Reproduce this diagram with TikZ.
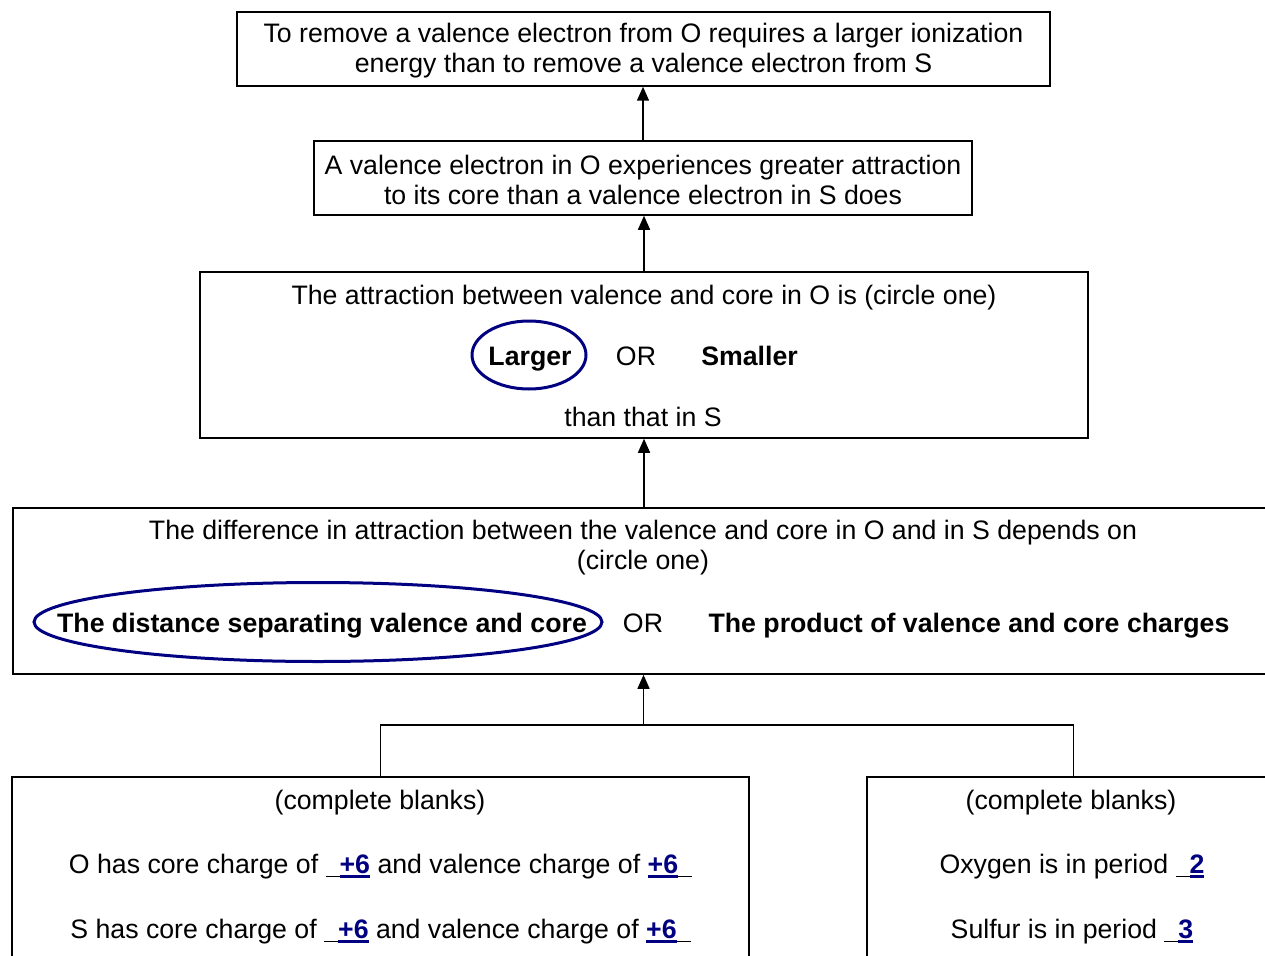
\documentclass[tikz,border=0pt]{standalone}
\usepackage{fontspec}
\setmainfont{Liberation Sans}
\usetikzlibrary{arrows.meta,shapes.geometric}
\definecolor{navy}{RGB}{0,0,128}
\newcommand\ans[1]{{\color{navy}\bfseries\setbox0\hbox{#1}\rlap{\rule[-4pt]{\wd0}{2.5pt}}\box0}}
\newcommand\gap{\rule[-3.5pt]{14pt}{1.3pt}}
\tikzset{
  box/.style={draw, line width=1.5pt, inner sep=0pt},
  txt/.style={inner sep=0pt, align=center, font=\fontsize{26.7}{30}\selectfont},
  upar/.style={line width=1.5pt, -{Triangle[length=14pt,width=12pt]}},
  link/.style={line width=1.5pt},
  circ/.style={draw=navy, line width=3pt, ellipse, inner sep=0pt}
}
\begin{document}
\begin{tikzpicture}[x=1pt,y=-1pt]
\useasboundingbox[fill=white] (0,0) rectangle (1265,955);
% boxes
\node[box, minimum width=813, minimum height=74] (b1) at (643.5,49) {};
\node[box, minimum width=658, minimum height=74] (b2) at (643,178) {};
\node[box, minimum width=888, minimum height=166] (b3) at (644,355) {};
\node[box, minimum width=1267, minimum height=166] (b4) at (646.5,591) {};
\node[box, minimum width=737, minimum height=200] (b5) at (380.5,877) {};
\node[box, minimum width=413, minimum height=200] (b6) at (1073.5,877) {};
% box 1, 2 texts
\node[txt] (t1) at (643.5,51)
  {To remove a valence electron from O requires a larger ionization\\energy than to remove a valence electron from S};
\node[txt] (t2) at (643,180)
  {A valence electron in O experiences greater attraction\\to its core than a valence electron in S does};
% box 3 texts
\node[txt, anchor=base] (t3a) at (644,304.5) {The attraction between valence and core in O is (circle one)};
\node[txt, anchor=base] (t3b) at (530,365.5) {\bfseries Larger};
\node[circ, minimum width=114, minimum height=68] (c1) at (529,355) {};
\node[txt, anchor=base] (t3c) at (636,365.5) {OR};
\node[txt, anchor=base] (t3d) at (749.5,365.5) {\bfseries Smaller};
\node[txt, anchor=base] (t3e) at (643,426.5) {than that in S};
% box 4 texts
\node[txt] (t4a) at (643,548) {The difference in attraction between the valence and core in O and in S depends on\\(circle one)};
\node[txt, anchor=base] (t4b) at (322,632.5) {\bfseries The distance separating valence and core};
\node[circ, minimum width=568, minimum height=79] (c2) at (318,622) {};
\node[txt, anchor=base] (t4c) at (643,632.5) {OR};
\node[txt, anchor=base] (t4d) at (969,632.5) {\bfseries The product of valence and core charges};
% box 5 texts
\node[txt, anchor=base] (t5a) at (380,809.5) {(complete blanks)};
\node[txt, anchor=base] (t5b) at (380.5,873.5) {O has core charge of \gap\ans{+6} and valence charge of \ans{+6}\gap};
\node[txt, anchor=base] (t5c) at (380.5,938.5) {S has core charge of \gap\ans{+6} and valence charge of \ans{+6}\gap};
% box 6 texts
\node[txt, anchor=base] (t6a) at (1071,809.5) {(complete blanks)};
\node[txt, anchor=base] (t6b) at (1072,873.5) {Oxygen is in period \gap\ans{2}};
\node[txt, anchor=base] (t6c) at (1072,938.5) {Sulfur is in period \gap\ans{3}};
% connectors
\draw[upar] (b2.north) -- (b2.north |- b1.south);
\draw[upar] (b3.north) -- (b3.north |- b2.south);
\draw[upar] (b3.south |- b4.north) -- (b3.south);
\coordinate (j) at (643.5,725);
\draw[link] (b5.north) -- (b5.north |- j) -| (b6.north);
\draw[upar] (j) -- (j |- b4.south);
\end{tikzpicture}
\end{document}
